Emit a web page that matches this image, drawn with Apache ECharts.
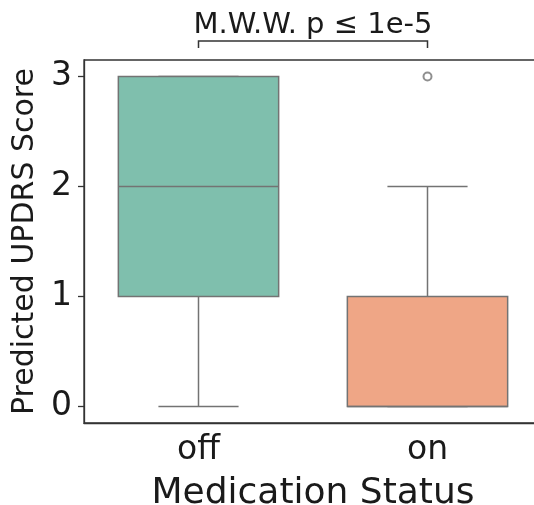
<!DOCTYPE html>
<html><head><meta charset="utf-8">
<script src="https://cdn.jsdelivr.net/npm/echarts@6/dist/echarts.min.js"></script>
<style>html,body{margin:0;padding:0;background:#fff}#c{width:534px;height:505px}</style>
</head><body><div id="c"></div>
<script>
const categories = ['off', 'on'];
const boxMin = [0, 0];
const boxQ1 = [1, 0];
const boxMedian = [2, 0];
const boxQ3 = [3, 1];
const boxMax = [3, 2];
const outlierCategory = ['on'];
const outlierValue = [3];
const yTicks = [0, 1, 2, 3];
const annotationText = 'M.W.W. p ≤ 1e-5';
const annotationPair = [0, 1];

const fills = ['#7fbfad', '#efa686'];
const lineColor = '#737373';
const FONT = 'DejaVu Sans';

const boxData = categories.map((c, i) => [i, boxMin[i], boxQ1[i], boxMedian[i], boxQ3[i], boxMax[i]]);
const outlierData = outlierCategory.map((c, i) => [c, outlierValue[i]]);

function renderBox(params, api) {
  const i = api.value(0);
  const pMin = api.coord([i, api.value(1)]);
  const pQ1 = api.coord([i, api.value(2)]);
  const pMed = api.coord([i, api.value(3)]);
  const pQ3 = api.coord([i, api.value(4)]);
  const pMax = api.coord([i, api.value(5)]);
  const band = api.size([1, 0])[0];
  const w = band * 0.7;
  const cw = w / 2;
  const x = pMin[0];
  const ls = { stroke: lineColor, lineWidth: 1.5 };
  return {
    type: 'group',
    children: [
      { type: 'line', shape: { x1: x, y1: pQ1[1], x2: x, y2: pMin[1] }, style: ls },
      { type: 'line', shape: { x1: x, y1: pQ3[1], x2: x, y2: pMax[1] }, style: ls },
      { type: 'line', shape: { x1: x - cw / 2, y1: pMin[1], x2: x + cw / 2, y2: pMin[1] }, style: ls },
      { type: 'line', shape: { x1: x - cw / 2, y1: pMax[1], x2: x + cw / 2, y2: pMax[1] }, style: ls },
      { type: 'rect', shape: { x: x - w / 2, y: pQ3[1], width: w, height: pQ1[1] - pQ3[1] },
        style: { fill: fills[i], stroke: lineColor, lineWidth: 1.5 } },
      { type: 'line', shape: { x1: x - w / 2, y1: pMed[1], x2: x + w / 2, y2: pMed[1] }, style: ls }
    ]
  };
}

function renderBracket(params, api) {
  const a = api.coord([api.value(0), 0]);
  const b = api.coord([api.value(1), 0]);
  const top = params.coordSys.y;
  const yl = top - 19, yt = top - 12;
  return {
    type: 'group',
    children: [
      { type: 'polyline', shape: { points: [[a[0], yt], [a[0], yl], [b[0], yl], [b[0], yt]] },
        style: { stroke: '#333', lineWidth: 1.5, fill: null } },
      { type: 'text', x: (a[0] + b[0]) / 2, y: yl - 1,
        style: { text: annotationText, font: '29px "DejaVu Sans"', fill: '#1a1a1a', align: 'center', verticalAlign: 'bottom' } }
    ]
  };
}

const chart = echarts.init(document.getElementById('c'), null, { renderer: 'canvas' });
chart.setOption({
  animation: false,
  backgroundColor: '#fff',
  grid: { left: 84, width: 458, top: 60, bottom: 82, containLabel: false, outerBoundsMode: 'none',
    show: true, borderColor: '#333', borderWidth: 1.3, backgroundColor: 'transparent' },
  xAxis: {
    type: 'category', data: categories, boundaryGap: true,
    name: 'Medication Status', nameLocation: 'middle', nameGap: 53,
    nameTextStyle: { fontFamily: FONT, fontSize: 36, color: '#1a1a1a' },
    axisLine: { onZero: false, lineStyle: { color: '#333', width: 1.3 } },
    axisTick: { alignWithLabel: true, length: 6, lineStyle: { color: '#333', width: 1.3 } },
    axisLabel: { fontFamily: FONT, fontSize: 33, color: '#1a1a1a', margin: 11 }
  },
  yAxis: {
    type: 'value', min: -0.15, max: 3.15,
    name: 'Predicted UPDRS Score', nameLocation: 'middle', nameGap: 42,
    nameTextStyle: { fontFamily: FONT, fontSize: 30, color: '#1a1a1a' },
    splitLine: { show: false },
    axisLine: { show: true, lineStyle: { color: '#333', width: 1.3 } },
    axisTick: { show: true, length: 6, customValues: yTicks, lineStyle: { color: '#333', width: 1.3 } },
    axisLabel: { fontFamily: FONT, fontSize: 33, color: '#1a1a1a', margin: 12, customValues: yTicks }
  },
  series: [
    { type: 'custom', renderItem: renderBox, data: boxData, encode: { x: 0, y: [1, 2, 3, 4, 5] }, z: 2 },
    { type: 'scatter', data: outlierData, symbol: 'emptyCircle', symbolSize: 8,
      itemStyle: { color: lineColor, borderColor: lineColor, borderWidth: 3 }, z: 3 },
    { type: 'custom', renderItem: renderBracket, data: [annotationPair], clip: false, z: 4,
      encode: { x: [0, 1] } }
  ]
});
</script>
</body></html>
